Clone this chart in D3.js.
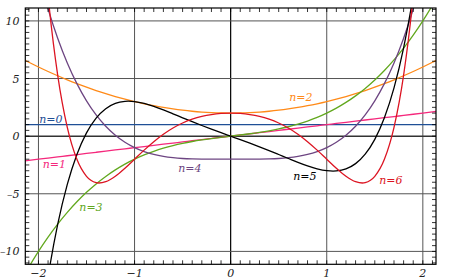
<!DOCTYPE html>
<html><head><meta charset="utf-8">
<script src="https://cdn.jsdelivr.net/npm/d3@7"></script>
<style>
body{margin:0;background:#fff}
svg{display:block}
text{font-family:"DejaVu Serif",serif;font-style:italic;font-size:11px}
</style>
</head><body>
<svg id="c" width="450" height="279"></svg>
<script>
// ---- data ----
const xs = [-2.2,-2.1,-2.0,-1.9,-1.8,-1.7,-1.6,-1.5,-1.4,-1.3,-1.2,-1.1,-1.0,-0.9,-0.8,-0.7,-0.6,-0.5,-0.4,-0.3,-0.2,-0.1,0,
            0.1,0.2,0.3,0.4,0.5,0.6,0.7,0.8,0.9,1.0,1.1,1.2,1.3,1.4,1.5,1.6,1.7,1.8,1.9,2.0,2.1,2.2];
const n0 = [1,1,1,1,1,1,1,1,1,1,1,1,1,1,1,1,1,1,1,1,1,1,1,1,1,1,1,1,1,1,1,1,1,1,1,1,1,1,1,1,1,1,1,1,1];
const n1 = [-2.2,-2.1,-2.0,-1.9,-1.8,-1.7,-1.6,-1.5,-1.4,-1.3,-1.2,-1.1,-1.0,-0.9,-0.8,-0.7,-0.6,-0.5,-0.4,-0.3,-0.2,-0.1,0,
            0.1,0.2,0.3,0.4,0.5,0.6,0.7,0.8,0.9,1.0,1.1,1.2,1.3,1.4,1.5,1.6,1.7,1.8,1.9,2.0,2.1,2.2];
const n2 = [6.84,6.41,6,5.61,5.24,4.89,4.56,4.25,3.96,3.69,3.44,3.21,3,2.81,2.64,2.49,2.36,2.25,2.16,2.09,2.04,2.01,2,
            2.01,2.04,2.09,2.16,2.25,2.36,2.49,2.64,2.81,3,3.21,3.44,3.69,3.96,4.25,4.56,4.89,5.24,5.61,6,6.41,6.84];
const n3 = [-12.848,-11.361,-10,-8.759,-7.632,-6.613,-5.696,-4.875,-4.144,-3.497,-2.928,-2.431,-2,-1.629,-1.312,-1.043,-0.816,-0.625,-0.464,-0.327,-0.208,-0.101,0,
            0.101,0.208,0.327,0.464,0.625,0.816,1.043,1.312,1.629,2,2.431,2.928,3.497,4.144,4.875,5.696,6.613,7.632,8.759,10,11.361,12.848];
const n4 = [21.426,17.448,14,11.032,8.498,6.352,4.554,3.063,1.842,0.856,0.074,-0.536,-1,-1.344,-1.590,-1.760,-1.870,-1.938,-1.974,-1.992,-1.998,-2,-2,
            -2,-1.998,-1.992,-1.974,-1.938,-1.870,-1.760,-1.590,-1.344,-1,-0.536,0.074,0.856,1.842,3.063,4.554,6.352,8.498,11.032,14,17.448,21.426];
const n5 = [-34.288,-25.280,-18,-12.202,-7.664,-4.186,-1.590,0.281,1.566,2.384,2.840,3.020,3,2.839,2.584,2.275,1.938,1.594,1.254,0.925,0.608,0.301,0,
            -0.301,-0.608,-0.925,-1.254,-1.594,-1.938,-2.275,-2.584,-2.839,-3,-3.020,-2.840,-2.384,-1.566,-0.281,1.590,4.186,7.664,12.202,18,25.280,34.288];
const n6 = [54.009,35.640,22,12.152,5.297,0.763,-2.010,-3.484,-4.034,-3.955,-3.481,-2.787,-2,-1.211,-0.477,0.167,0.707,1.141,1.473,1.715,1.877,1.970,2,
            1.970,1.877,1.715,1.473,1.141,0.707,0.167,-0.477,-1.211,-2,-2.787,-3.481,-3.955,-4.034,-3.484,-2.010,0.763,5.297,12.152,22,35.640,54.009];
const seriesNames = ["n=0","n=1","n=2","n=3","n=4","n=5","n=6"];
const xTicks = [-2,-1,0,1,2];
const yTicks = [-10,-5,0,5,10];

// ---- styling / layout ----
const colors = ["#1f4f96","#f5287c","#ff8a18","#62a81e","#6d4582","#000000","#dc1422"];
const labelPos = [[-1.992,1.11],[-1.956,-2.79],[0.610,3.09],[-1.575,-6.49],[-0.545,-3.07],[0.651,-3.80],[1.546,-4.15]];
const values = [n0,n1,n2,n3,n4,n5,n6];

const L=25.3,R=436,T=8,B=264.3;
const x = d3.scaleLinear().domain([-2.137,2.137]).range([L,R]);
const y = d3.scaleLinear().domain([-11.12,11.12]).range([B,T]);
const svg = d3.select("#c");
svg.append("rect").attr("width",450).attr("height",279).attr("fill","#fff");

svg.append("clipPath").attr("id","clip").append("rect")
  .attr("x",L).attr("y",T).attr("width",R-L).attr("height",B-T);

const grid = svg.append("g");
grid.selectAll("line.v").data(xTicks).join("line")
  .attr("x1",d=>x(d)).attr("x2",d=>x(d)).attr("y1",T).attr("y2",B)
  .attr("stroke",d=>d===0?"#000":"#555").attr("stroke-width",d=>d===0?1.2:1);
grid.selectAll("line.h").data(yTicks).join("line")
  .attr("y1",d=>y(d)).attr("y2",d=>y(d)).attr("x1",L).attr("x2",R)
  .attr("stroke",d=>d===0?"#333":"#555").attr("stroke-width",d=>d===0?1.5:1);

const line = d3.line().curve(d3.curveCatmullRom.alpha(0));
const curves = svg.append("g").attr("clip-path","url(#clip)");
values.forEach((vals,i)=>{
  const pts = xs.map((xv,j)=>[x(xv),y(vals[j])]);
  curves.append("path").attr("d",line(pts)).attr("fill","none")
    .attr("stroke",colors[i]).attr("stroke-width",1.3);
});

// frame
svg.append("rect").attr("x",L).attr("y",T).attr("width",R-L).attr("height",B-T)
  .attr("fill","none").attr("stroke","#000").attr("stroke-width",1.2);

// minor ticks
const xMinor = d3.range(-21,22).map(k=>k/10);
const yMinor = d3.range(-22,23).map(k=>k/2);
const tk = svg.append("g").attr("stroke","#000").attr("stroke-width",0.8);
xMinor.forEach(v=>{
  tk.append("line").attr("x1",x(v)).attr("x2",x(v)).attr("y1",T).attr("y2",T+4);
  tk.append("line").attr("x1",x(v)).attr("x2",x(v)).attr("y1",B).attr("y2",B-4);
});
yMinor.forEach(v=>{
  if (y(v)<T||y(v)>B) return;
  tk.append("line").attr("y1",y(v)).attr("y2",y(v)).attr("x1",L).attr("x2",L+4);
  tk.append("line").attr("y1",y(v)).attr("y2",y(v)).attr("x1",R).attr("x2",R-4);
});

const fmtY = d=>String(d).replace("-","\u2013");
const fmtX = d3.format("d");
svg.selectAll("text.yt").data(yTicks).join("text")
  .attr("x",19.5).attr("y",d=>y(d)+4).attr("text-anchor","end").attr("fill","#222").text(fmtY);
svg.selectAll("text.xt").data(xTicks).join("text")
  .attr("x",d=>x(d)).attr("y",277).attr("text-anchor","middle").attr("fill","#222").text(d=>fmtX(d));

// series labels
seriesNames.forEach((s,i)=>{
  svg.append("text").attr("x",x(labelPos[i][0])).attr("y",y(labelPos[i][1]))
    .attr("fill",colors[i]).text(s);
});
</script>
</body></html>
